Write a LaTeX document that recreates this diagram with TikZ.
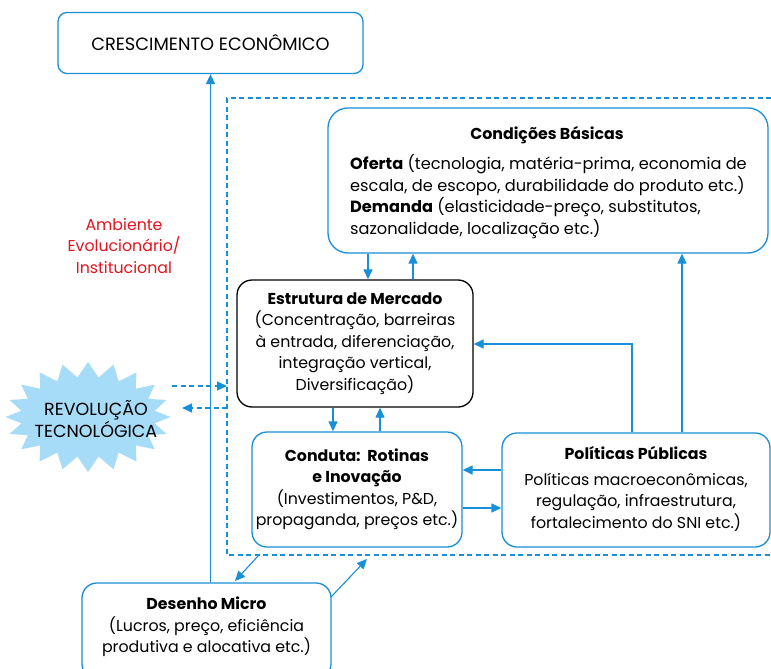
\documentclass[tikz,border=0pt]{standalone}
\usepackage{fontspec}
\setmainfont{Poppins}
\usetikzlibrary{arrows.meta,shapes.symbols}
\definecolor{lblue}{RGB}{24,143,214}
\definecolor{starfill}{RGB}{166,220,247}
\definecolor{lred}{RGB}{226,20,30}
\tikzset{
  box/.style={draw=lblue,line width=1.3pt,rounded corners=9pt,fill=white},
  txt/.style={font=\fontsize{15.8}{21.5}\selectfont,align=center,inner sep=0pt},
  captxt/.style={font=\fontsize{17.5}{22}\selectfont,align=center,inner sep=0pt},
  conn/.style={draw=lblue,line width=1.3pt,-{Triangle[length=10pt,width=9pt]}},
  dconn/.style={conn,dashed,dash pattern=on 5pt off 3.5pt},
  frame/.style={draw=lblue,line width=1.3pt,dash pattern=on 5pt off 3.5pt}
}
\begin{document}
\begin{tikzpicture}[x=1pt,y=-1pt]
\useasboundingbox (0,0) rectangle (771,669);
% dashed frame
\draw[frame] (771,98) -- (227,98) -- (227,555) -- (771,555);
% boxes
\node[box,minimum width=305pt,minimum height=61pt,captxt,font=\fontsize{17.8}{22}\selectfont] (ce) at (210.5,43) {CRESCIMENTO ECONÔMICO};
\node[box,rounded corners=20pt,minimum width=440pt,minimum height=145pt] (cb) at (548,180.5) {};
\node[txt,font=\bfseries\fontsize{15.8}{21.5}\selectfont] (cbt) at (547,135) {Condições Básicas};
\node[txt,align=left,anchor=north west,font=\fontsize{16.2}{21.8}\selectfont] (cbx) at (350,154) {\textbf{Oferta} (tecnologia, matéria-prima, economia de\\escala, de escopo, durabilidade do produto etc.)\\\textbf{Demanda} (elasticidade-preço, substitutos,\\sazonalidade, localização etc.)};
\node[box,draw=black,rounded corners=15pt,minimum width=236pt,minimum height=127pt,txt] (em) at (355,343.5) {\textbf{Estrutura de Mercado}\\(Concentração, barreiras\\à entrada, diferenciação,\\integração vertical,\\Diversificação)};
\node[box,rounded corners=15pt,minimum width=210pt,minimum height=115pt,txt] (cd) at (357,489.5) {\textbf{Conduta:\ \ Rotinas}\\\textbf{e Inovação}\\(Investimentos, P\&D,\\propaganda, preços etc.)};
\node[box,rounded corners=15pt,minimum width=268pt,minimum height=114pt] (pp) at (636,490) {};
\node[txt] (ppx) at (636,489) {\textbf{Políticas Públicas}\\[4pt]Políticas macroeconômicas,\\regulação, infraestrutura,\\fortalecimento do SNI etc.)};
\node[box,rounded corners=15pt,minimum width=249pt,minimum height=96pt] (dm) at (206.5,631) {};
\node[txt] (dmx) at (206.5,627) {\textbf{Desenho Micro}\\(Lucros, preço, eficiência\\produtiva e alocativa etc.)};
% star
\node[starburst,starburst points=20,starburst point height=15pt,random starburst=0,fill=starfill,minimum width=165pt,minimum height=110pt,inner sep=0pt] (rt) at (88,417) {};
\node[captxt] (rtx) at (96,419) {REVOLUÇÃO\\TECNOLÓGICA};
% red label
\node[txt,text=lred] (amb) at (124,246) {Ambiente\\Evolucionário/\\Institucional};
% coordinates
\coordinate (fl1) at (227,386);
\coordinate (fl2) at (227,408);
\coordinate (fb1) at (258,556);
\coordinate (fb2) at (367,559);
% connectors
\draw[conn] (dm.north -| ce.south) -- (ce.south);
\draw[conn] (cb.south -| 368,0) -- (em.north -| 368,0);
\draw[conn] (em.north -| 413,0) -- (cb.south -| 413,0);
\draw[conn] (em.south -| 333,0) -- (cd.north -| 333,0);
\draw[conn] (cd.north -| 380,0) -- (em.south -| 380,0);
\draw[conn] (pp.west |- 0,470) -- (cd.east |- 0,470);
\draw[conn] (cd.east |- 0,508) -- (pp.west |- 0,508);
\draw[conn] (pp.north -| 632,0) -- (632,344) -- (em.east |- 0,344);
\draw[conn] (pp.north -| 682,0) -- (cb.south -| 682,0);
\draw[dconn] (172,386) -- (fl1);
\draw[dconn] (fl2) -- (182,408);
\draw[conn,line width=1.1pt] (fb1) -- (235,581);
\draw[conn,line width=1.1pt] (331,597) -- (fb2);
\end{tikzpicture}
\end{document}
